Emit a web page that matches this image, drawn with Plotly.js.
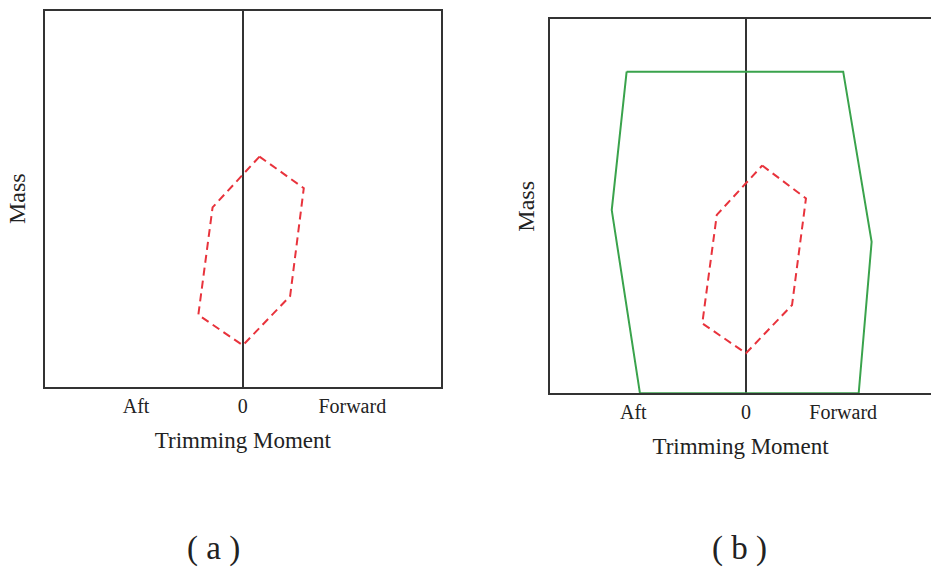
<!DOCTYPE html>
<html>
<head>
<meta charset="utf-8">
<script src="https://cdn.plot.ly/plotly-3.0.1.min.js"></script>
<style>html,body{margin:0;padding:0;overflow:hidden;background:#fff;}</style>
</head>
<body>
<div id="chart" style="width:931px;height:569px;"></div>
<script>
// Panel (a): feasible loading envelope (red dashed)
const envA_x = [0.084, 0.308, 0.239, 0.000, -0.225, -0.153, 0.084];
const envA_y = [0.612, 0.528, 0.241, 0.110, 0.191, 0.477, 0.612];
// Panel (b): same envelope plus limit polygon (green)
const envB_x = [0.083, 0.306, 0.235, 0.000, -0.223, -0.149, 0.083];
const envB_y = [0.609, 0.521, 0.236, 0.107, 0.187, 0.477, 0.609];
const limB_x = [-0.609, 0.496, 0.641, 0.575, -0.541, -0.685, -0.609];
const limB_y = [0.860, 0.860, 0.405, 0.000, 0.000, 0.490, 0.860];
// Tick labels
const tickText = ['Aft', '0', 'Forward'];
const tickValsA = [-0.54, 0, 0.553];
const tickValsB = [-0.575, 0, 0.496];
const xTitle = 'Trimming Moment';
const yTitle = 'Mass';
const captions = ['(\u2005a\u2005)', '(\u2005b\u2005)'];

const W = 931, H = 569;
const serif = 'Liberation Serif, Times New Roman, serif';
const textCol = '#222';
const red = '#e8333c';
const green = '#3aa34c';

const traces = [
  {x: envA_x, y: envA_y, xaxis: 'x', yaxis: 'y', mode: 'lines',
   line: {color: red, width: 2, dash: '8px,5px'}, hoverinfo: 'skip'},
  {x: limB_x, y: limB_y, xaxis: 'x2', yaxis: 'y2', mode: 'lines',
   line: {color: green, width: 2}, hoverinfo: 'skip'},
  {x: envB_x, y: envB_y, xaxis: 'x2', yaxis: 'y2', mode: 'lines',
   line: {color: red, width: 2, dash: '8px,5px'}, hoverinfo: 'skip'}
];

function xax(domain, range, tv, mirror, tstand) {
  return {
    domain: domain, range: range, tickvals: tv, ticktext: tickText,
    ticks: '', showgrid: false, zeroline: true, zerolinecolor: '#333', zerolinewidth: 2,
    showline: true, linecolor: '#333', linewidth: 2, mirror: mirror,
    tickfont: {family: serif, size: 20, color: textCol},
    ticklabelstandoff: 0,
    title: {text: xTitle, font: {family: serif, size: 23, color: textCol}, standoff: tstand},
    fixedrange: true
  };
}
function yax(domain, anchor, mirror, tstand) {
  return {
    domain: domain, range: [0, 1], anchor: anchor, showticklabels: false, ticks: '',
    showgrid: false, zeroline: false, showline: true, linecolor: '#333', linewidth: 2,
    mirror: mirror,
    title: {text: yTitle, font: {family: serif, size: 24, color: textCol}, standoff: tstand},
    fixedrange: true
  };
}

const layout = {
  width: W, height: H,
  margin: {l: 0, r: 0, t: 0, b: 0},
  paper_bgcolor: '#fff', plot_bgcolor: '#fff',
  showlegend: false,
  xaxis: Object.assign(xax([45 / W, 440.7 / W], [-1, 1], tickValsA, true, 16), {anchor: 'y'}),
  yaxis: yax([(H - 386.7) / H, (H - 10.7) / H], 'x', true, 11),
  xaxis2: Object.assign(xax([550 / W, 1], [-1, 0.944], tickValsB, 'ticks', 16), {anchor: 'y2'}),
  yaxis2: yax([(H - 393.3) / H, (H - 19.3) / H], 'x2', false, 7),
  annotations: [
    {text: captions[0], xref: 'paper', yref: 'paper', x: 213 / W, y: (H - 548) / H,
     showarrow: false, xanchor: 'center', yanchor: 'middle',
     font: {family: serif, size: 33, color: textCol}},
    {text: captions[1], xref: 'paper', yref: 'paper', x: 739 / W, y: (H - 548) / H,
     showarrow: false, xanchor: 'center', yanchor: 'middle',
     font: {family: serif, size: 33, color: textCol}}
  ]
};

Plotly.newPlot('chart', traces, layout, {staticPlot: true, displayModeBar: false});
</script>
</body>
</html>
